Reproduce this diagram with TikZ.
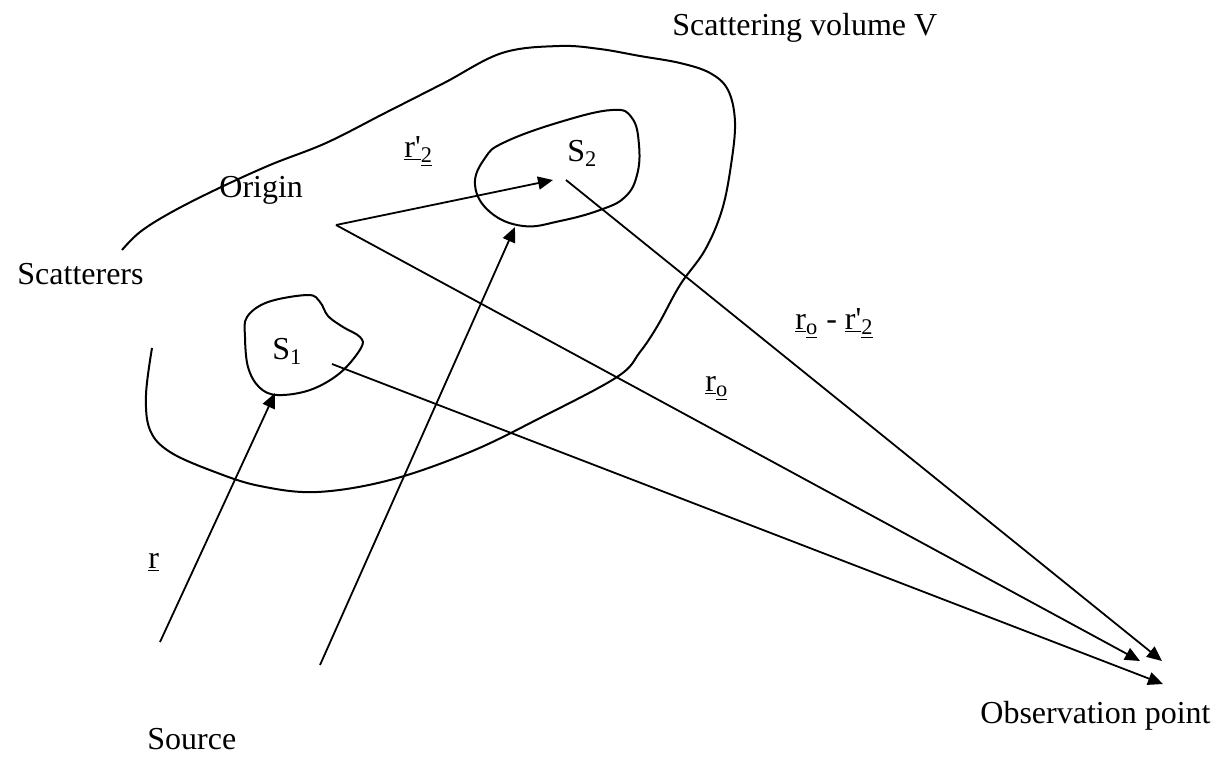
\documentclass[tikz,border=0pt]{standalone}
\usepackage{fontspec}
\setmainfont{Liberation Serif}
\usetikzlibrary{arrows.meta}
\begin{document}
\begin{tikzpicture}[x=0.5pt,y=-0.5pt,
  curve/.style={line width=1pt,line join=round},
  vec/.style={line width=0.9pt,-{Triangle[length=7.5pt,width=6.5pt]}},
  lbl/.style={inner sep=0pt,anchor=base west,font=\fontsize{16}{19}\selectfont}]
\useasboundingbox (0,0) rectangle (1220,757);

% scattering volume outline (open curve)
\draw[curve] plot[smooth,tension=0.6] coordinates {(152,348) (146,395) (150,430) (170,452) (215,472) (260,486) (317,492) (390,480) (470,452) (540,418) (617,377) (640,352) (658,325) (680,285) (705,250) (722,210) (731,165) (735,122) (728,90) (710,73) (680,63) (640,56) (600,49) (559,46) (502,53) (444,83) (385,113) (326,143) (270,165) (215,190) (170,213) (140,232) (122,250)};

% scatterer S2
\draw[curve] plot[smooth cycle,tension=0.7] coordinates {(475,185) (485,158) (505,142) (560,122) (612,110) (632,118) (639,145) (637,175) (625,197) (600,210) (560,221) (523,226) (490,212)};

% scatterer S1
\draw[curve] plot[smooth cycle,tension=0.6] coordinates {(247,317) (268,302) (308,295) (320,302) (328,316) (343,327) (360,337) (361,348) (340,373) (310,390) (277,395) (259,387) (248,367) (245,337)};

% points
\coordinate (O) at (336,225);
\coordinate (s2p) at (566,180);
\coordinate (s1p) at (332,364);
\coordinate (t12) at (553,180);
\coordinate (src1) at (160,642);
\coordinate (src2) at (320,665);
\coordinate (tS1) at (275,393);
\coordinate (tS2) at (515,227);
\coordinate (obsA) at (1140,661);
\coordinate (obsB) at (1162,661);
\coordinate (obsC) at (1163,684);

% vectors
\draw[vec] (O) -- (t12);
\draw[vec] (O) -- (obsA);
\draw[vec] (s2p) -- (obsB);
\draw[vec] (s1p) -- (obsC);
\draw[vec] (src1) -- (tS1);
\draw[vec] (src2) -- (tS2);

% labels
\node[lbl] (lV) at (672,35) {Scattering volume V};
\node[lbl] (lOrig) at (219,197) {Origin};
\node[lbl] (lScat) at (17,284) {Scatterers};
\node[lbl] (lS2) at (567,161) {S\textsubscript{2}};
\node[lbl] (lS1) at (272,359) {S\textsubscript{1}};
\node[lbl] (lr2) at (404,157) {\underline{r\textquotesingle}\textsubscript{\underline{2}}};
\node[lbl] (lro2) at (795,329) {\underline{r}\textsubscript{\underline{o}} - \underline{r\textquotesingle}\textsubscript{\underline{2}}};
\node[lbl] (lro) at (705,391) {\underline{r}\textsubscript{\underline{o}}};
\node[lbl] (lr) at (148,568) {\underline{r}};
\node[lbl] (lsrc) at (147,749) {Source};
\node[lbl] (lobs) at (980,723) {Observation point};
\end{tikzpicture}
\end{document}
